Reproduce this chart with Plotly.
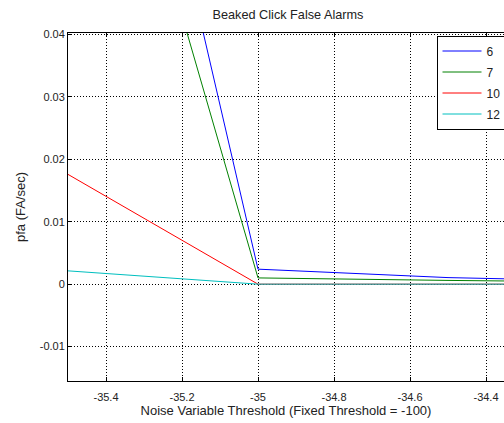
import plotly.graph_objects as go

# Data
x_vals = [-35.5, -35.0, -34.5, -34.0]
series_names = ["6", "7", "10", "12"]
pfa_6 = [0.1337, 0.0024, 0.00105, 0.0004]
pfa_7 = [0.106, 0.0010, 0.0006, 0.0003]
pfa_10 = [0.01757, 0.0, 0.0, 0.0]
pfa_12 = [0.00213, 0.0, 0.0, 0.0]
colors = ["#0000FF", "#008000", "#FF0000", "#00BFBF"]

x_tickvals = [-35.4, -35.2, -35.0, -34.8, -34.6, -34.4]
x_ticktext = ["-35.4", "-35.2", "-35", "-34.8", "-34.6", "-34.4"]
y_tickvals = [-0.01, 0.0, 0.01, 0.02, 0.03, 0.04]
y_ticktext = ["-0.01", "0", "0.01", "0.02", "0.03", "0.04"]

W, H = 504, 423
ML, MR, MT, MB = 68, 0, 33, 42
PW = W - ML - MR
PH = H - MT - MB

def px_x(p):
    return (p - ML) / PW

def px_y(p):
    return 1 - (p - MT) / PH

fig = go.Figure()
for name, ys, c in zip(series_names, [pfa_6, pfa_7, pfa_10, pfa_12], colors):
    fig.add_trace(go.Scatter(x=x_vals, y=ys, mode="lines", name=name,
                             line=dict(color=c, width=1), legendgroup=name))

font = dict(family="Liberation Sans, Arial, sans-serif", size=11, color="#222222")

fig.update_layout(
    width=W, height=H,
    margin=dict(l=ML, r=MR, t=MT, b=MB, autoexpand=False),
    paper_bgcolor="white", plot_bgcolor="white",
    font=font,
    title=dict(text="Beaked Click False Alarms", x=288 / W, xanchor="center",
               y=1 - 15 / H, yanchor="middle", font=dict(size=12.7, color="#222222")),
    showlegend=True,
    legend=dict(x=px_x(436.5), xanchor="left", y=px_y(35.5), yanchor="top",
                bgcolor="white", bordercolor="black", borderwidth=1,
                itemwidth=39, entrywidth=100, entrywidthmode="pixels",
                font=dict(size=12, color="#222222"), tracegroupgap=2),
    xaxis=dict(range=[-35.5, -35.5 + PW / 380.0], tickvals=x_tickvals, ticktext=x_ticktext,
               showgrid=True, gridcolor="black", griddash="1px,2px", gridwidth=1,
               zeroline=False, showline=True, linecolor="black", linewidth=1,
               mirror="ticks", ticks="inside", ticklen=4, tickcolor="black",
               ticklabelstandoff=6,
               title=dict(text="Noise Variable Threshold (Fixed Threshold = -100)", standoff=3)),
    yaxis=dict(range=[-0.0155, 0.0402], tickvals=y_tickvals, ticktext=y_ticktext,
               showgrid=True, gridcolor="black", griddash="1px,2px", gridwidth=1,
               zeroline=False, showline=True, linecolor="black", linewidth=1,
               ticks="inside", ticklen=4, tickcolor="black",
               title=dict(text="pfa (FA/sec)", standoff=11)),
)

fig.write_html("out.html", config={"displayModeBar": False},
               post_script="document.body.style.margin='0';document.body.style.overflow='hidden';")
